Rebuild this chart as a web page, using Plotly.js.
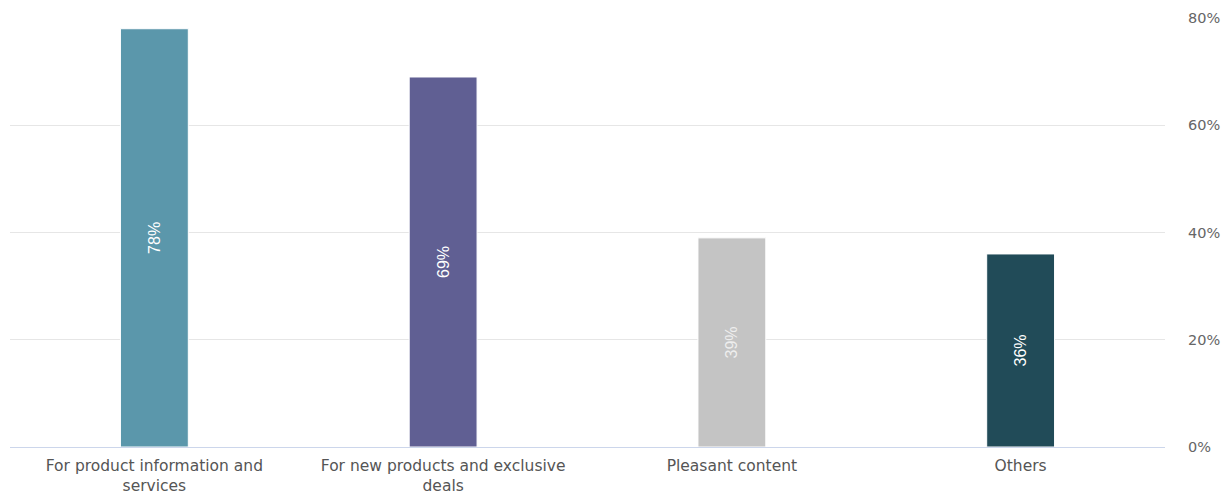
<!DOCTYPE html>
<html>
<head>
<meta charset="utf-8">
<script src="https://cdn.plot.ly/plotly-3.0.1.min.js"></script>
<style>html,body{margin:0;padding:0;background:#fff;}#chart{width:1232px;height:494px;}</style>
</head>
<body>
<div id="chart"></div>
<script>
const categories = ["For product information and<br>services", "For new products and exclusive<br>deals", "Pleasant content", "Others"];
const values = [78, 69, 39, 36];
const barColors = ["#5b97ab", "#605f93", "#c4c4c4", "#214b58"];
const labelColors = ["#ffffff", "#ffffff", "#eeeeee", "#ffffff"];
const tickVals = [0, 20, 40, 60, 80];
const tickText = ["0%", "20%", "40%", "60%", "80%"];

const trace = {
  type: "bar",
  x: categories,
  y: values,
  width: 0.235,
  marker: {color: barColors, line: {color: "#ffffff", width: 1}},
  text: values.map(v => v + "%"),
  textposition: "inside",
  insidetextanchor: "middle",
  textangle: -90,
  textfont: {family: "Liberation Sans Narrow, Arial Narrow, sans-serif", size: 16, color: labelColors},
  hoverinfo: "none",
  cliponaxis: false
};

const layout = {
  width: 1232, height: 494,
  margin: {l: 10, r: 67, t: 18, b: 47},
  paper_bgcolor: "#ffffff", plot_bgcolor: "#ffffff",
  showlegend: false,
  bargap: 0,
  font: {family: "DejaVu Sans, sans-serif"},
  xaxis: {
    type: "category",
    showgrid: false, zeroline: false,
    showline: true, linecolor: "#ccd6eb", linewidth: 1,
    ticks: "",
    ticklabelstandoff: 4,
    tickfont: {family: "DejaVu Sans, sans-serif", size: 15.5, color: "#555555"},
    automargin: false
  },
  yaxis: {
    side: "right",
    range: [0, 80],
    tickvals: tickVals, ticktext: tickText,
    showgrid: true, gridcolor: "#e6e6e6", gridwidth: 1,
    zeroline: false, showline: false,
    ticks: "",
    ticklabelstandoff: 22,
    tickfont: {family: "DejaVu Sans, sans-serif", size: 14.5, color: "#666666"},
    automargin: false
  }
};

Plotly.newPlot("chart", [trace], layout, {displayModeBar: false, staticPlot: true});
</script>
</body>
</html>
